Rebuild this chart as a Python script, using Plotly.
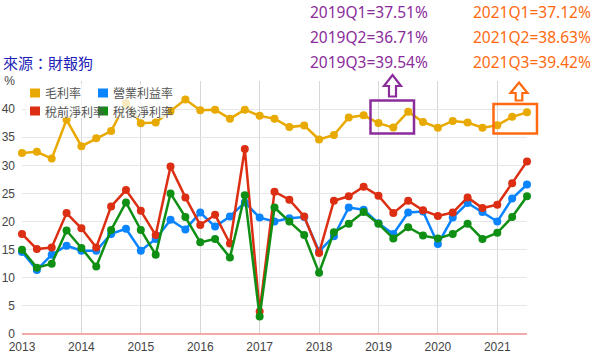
import plotly.graph_objects as go

quarters = [f"{y}Q{q}" for y in range(2013, 2022) for q in range(1, 5)][:35]
gross = [32.2, 32.4, 31.2, 38.1, 33.4, 34.8, 36.1, 41.1, 37.5, 37.6, 39.6, 41.7,
         39.8, 39.9, 38.3, 39.9, 38.8, 38.3, 36.8, 37.1, 34.6, 35.4, 38.5, 38.9,
         37.51, 36.71, 39.54, 37.7, 36.7, 37.9, 37.6, 36.7, 37.12, 38.63, 39.42]
operating = [14.6, 11.4, 14.1, 15.7, 14.8, 14.8, 17.8, 18.7, 14.8, 16.9, 20.3, 18.6,
             21.6, 19.1, 20.9, 23.4, 20.7, 20.0, 20.6, 20.8, 14.7, 17.4, 22.5, 22.1,
             19.7, 17.8, 21.6, 21.8, 16.0, 20.7, 23.3, 21.7, 20.0, 24.1, 26.6]
pretax = [17.8, 15.1, 15.4, 21.5, 18.8, 15.4, 22.7, 25.6, 21.9, 17.6, 29.8, 24.3,
          19.4, 21.2, 16.1, 32.9, 4.0, 25.3, 23.9, 20.9, 14.4, 23.7, 24.5, 26.2,
          24.6, 21.5, 23.7, 22.0, 21.0, 21.6, 24.3, 22.4, 23.0, 26.8, 30.7]
aftertax = [15.0, 11.8, 12.5, 18.4, 15.3, 12.0, 18.5, 23.4, 18.5, 14.1, 25.0, 20.8,
            16.3, 16.9, 13.6, 24.7, 3.1, 22.5, 20.0, 17.6, 10.9, 18.1, 19.6, 21.7,
            19.6, 17.0, 19.0, 17.5, 17.0, 17.8, 19.6, 16.9, 18.0, 20.8, 24.5]
series_names = ["毛利率", "營業利益率", "稅前淨利率", "稅後淨利率"]
year_ticks = list(range(2013, 2022))
y_ticks = [0, 5, 10, 15, 20, 25, 30, 35, 40, 45]
y_ticktext = ["0", "5", "10", "15", "20", "25", "30", "35", "40", "%"]
notes_2019 = ["2019Q1=37.51%", "2019Q2=36.71%", "2019Q3=39.54%"]
notes_2021 = ["2021Q1=37.12%", "2021Q2=38.63%", "2021Q3=39.42%"]

colors = {"毛利率": "#E8A900", "營業利益率": "#0A84FF",
          "稅前淨利率": "#DC2E12", "稅後淨利率": "#0F8F14"}

x = [int(q[:4]) + (int(q[-1]) - 1) * 0.25 for q in quarters]

L, R, T, B = 22, 73, 81, 26
W, H = 600, 360
PW, PH = W - L - R, H - T - B


def px(v):
    return (v - L) / PW


def py(v):
    return (H - B - v) / PH


fig = go.Figure()
data = {"毛利率": gross, "營業利益率": operating, "稅前淨利率": pretax, "稅後淨利率": aftertax}
for name in series_names:
    fig.add_trace(go.Scatter(
        x=x, y=data[name], mode="lines+markers", name=name,
        line=dict(color=colors[name], width=2.5),
        marker=dict(color=colors[name], size=8),
        cliponaxis=False, showlegend=False))

shapes = []
annotations = []

# legend (manual)
shapes.append(dict(type="rect", xref="paper", yref="paper", x0=px(26), x1=px(168),
                   y0=py(118), y1=py(84), fillcolor="rgba(255,255,255,0.75)",
                   line=dict(width=0), layer="above"))
leg_pos = [(30, 93, "毛利率"), (98, 93, "營業利益率"), (30, 111, "稅前淨利率"), (98, 111, "稅後淨利率")]
for lx, ly, name in leg_pos:
    shapes.append(dict(type="rect", xref="paper", yref="paper", x0=px(lx), x1=px(lx + 10),
                       y0=py(ly + 4.5), y1=py(ly - 4.5), fillcolor=colors[name],
                       line=dict(width=0), layer="above"))
    annotations.append(dict(text=name, xref="paper", yref="paper", x=px(lx + 13), y=py(ly),
                            xanchor="left", yanchor="middle", showarrow=False,
                            font=dict(size=12, color="#555555", family="Noto Sans CJK TC")))

# highlight boxes
purple = "#8B2C9B"
orange = "#FF6A10"
shapes.append(dict(type="rect", xref="paper", yref="paper", x0=px(370.5), x1=px(414),
                   y0=py(133.5), y1=py(100.5), line=dict(color=purple, width=2.5), layer="above"))
shapes.append(dict(type="rect", xref="paper", yref="paper", x0=px(493.5), x1=px(537),
                   y0=py(133.5), y1=py(104), line=dict(color=orange, width=2.5), layer="above"))


def arrow_path(cx, tip, head_y, bottom, head_half, shaft_half):
    pts = [(cx, tip), (cx + head_half, head_y), (cx + shaft_half, head_y),
           (cx + shaft_half, bottom), (cx - shaft_half, bottom), (cx - shaft_half, head_y),
           (cx - head_half, head_y)]
    return "M " + " L ".join(f"{px(a):.4f},{py(b):.4f}" for a, b in pts) + " Z"


shapes.append(dict(type="path", xref="paper", yref="paper",
                   path=arrow_path(392.5, 75, 86, 96.5, 8.5, 3.5),
                   line=dict(color=purple, width=2.2), fillcolor="rgba(0,0,0,0)", layer="above"))
shapes.append(dict(type="path", xref="paper", yref="paper",
                   path=arrow_path(519, 82.5, 93, 100.5, 8.5, 3.3),
                   line=dict(color=orange, width=2.2), fillcolor="rgba(0,0,0,0)", layer="above"))

for i, t in enumerate(notes_2019):
    annotations.append(dict(text=t, xref="paper", yref="paper", x=px(368.5), y=py(12 + 25 * i),
                            xanchor="center", yanchor="middle", showarrow=False,
                            font=dict(size=15.5, color=purple, family="Noto Sans")))
for i, t in enumerate(notes_2021):
    annotations.append(dict(text=t, xref="paper", yref="paper", x=px(532), y=py(12 + 25 * i),
                            xanchor="center", yanchor="middle", showarrow=False,
                            font=dict(size=15.5, color=orange, family="Noto Sans")))

annotations.append(dict(text="來源：財報狗", xref="paper", yref="paper", x=px(1), y=py(62),
                        xanchor="left", yanchor="middle", showarrow=False,
                        font=dict(size=15, color="#1E1EB8", family="Noto Sans CJK TC")))

fig.update_layout(
    width=W, height=H,
    margin=dict(l=L, r=R, t=T, b=B, autoexpand=False),
    paper_bgcolor="white", plot_bgcolor="white",
    shapes=shapes, annotations=annotations,
    font=dict(family="Liberation Sans", size=12, color="#444444"),
    xaxis=dict(range=[2013, 2021.5], tickvals=year_ticks, ticktext=[str(v) for v in year_ticks],
               showgrid=True, gridcolor="#D6D6D6", gridwidth=1, zeroline=False,
               showline=False, ticks="", automargin=False, ticklabelstandoff=4,
               tickfont=dict(size=12, color="#444444")),
    yaxis=dict(range=[0, 45], tickvals=y_ticks, ticktext=y_ticktext,
               showgrid=True, gridcolor="#E6E6E6", gridwidth=1,
               zeroline=True, zerolinecolor="#F4AAAA", zerolinewidth=1.5,
               showline=False, ticks="", ticklabelstandoff=6, automargin=False,
               tickfont=dict(size=12, color="#444444")),
    showlegend=False,
)

fig.write_html("out.html", config={"displayModeBar": False},
               post_script="document.body.style.margin='0';document.body.style.padding='0';")
